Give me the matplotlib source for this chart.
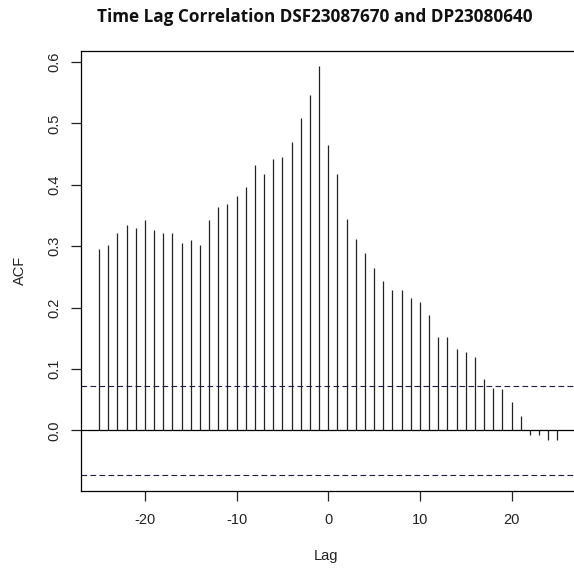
import matplotlib
matplotlib.use("Agg")
import matplotlib.pyplot as plt

# cross-correlation values, lags -25..25
lags = list(range(-25, 26))
acf = [
    0.296, 0.302, 0.321, 0.335, 0.329, 0.343, 0.327, 0.321, 0.321, 0.305,
    0.310, 0.302, 0.343, 0.364, 0.368, 0.382, 0.397, 0.433, 0.418, 0.442,
    0.446, 0.469, 0.509, 0.546, 0.593, 0.465, 0.417, 0.345, 0.312, 0.289,
    0.265, 0.244, 0.228, 0.228, 0.216, 0.209, 0.188, 0.152, 0.152, 0.133,
    0.127, 0.119, 0.084, 0.069, 0.067, 0.047, 0.023, -0.008, -0.007, -0.016,
    -0.016,
]
ci = 0.0722
xticks = [-20, -10, 0, 10, 20]
yticks = [0.0, 0.1, 0.2, 0.3, 0.4, 0.5, 0.6]

plt.rcParams["font.family"] = ["Liberation Sans", "DejaVu Sans"]

fig = plt.figure(figsize=(5.74, 5.68), dpi=100)
ax = fig.add_axes([80.7 / 574, 77.5 / 568, 495 / 574, 439.5 / 568])

ax.vlines(lags, 0, acf, color="#222222", lw=0.9)
ax.axhline(0, color="black", lw=0.9)
for y in (ci, -ci):
    ax.axhline(y, color="#1c1c4a", lw=0.8, linestyle=(0, (5.1, 3.0)))

ax.set_xlim(-27, 27)
ax.set_ylim(-0.0978, 0.618)
ax.set_xticks(xticks)
ax.set_xticklabels([str(t) for t in xticks])
ax.set_yticks(yticks)
ax.set_yticklabels([f"{t:.1f}" for t in yticks], rotation=90, va="center")
ax.tick_params(axis="x", length=7, width=0.9, pad=9, labelsize=10.5, colors="#222222")
ax.tick_params(axis="y", length=7.5, width=0.9, pad=6.5, labelsize=10.5, colors="#222222")
for s in ax.spines.values():
    s.set_linewidth(0.9)
    s.set_color("black")

fig.text(20 / 574, 1 - 270 / 568, "ACF", rotation=90, ha="center", va="center",
         fontsize=10.5, color="#222222")
fig.text(326 / 574, 1 - 556 / 568, "Lag", ha="center", va="center",
         fontsize=10.5, color="#222222")
fig.text(315 / 574, 1 - 17 / 568, "Time Lag Correlation DSF23087670 and DP23080640",
         ha="center", va="center", fontsize=12.3, fontweight="bold",
         family=["Open Sans", "DejaVu Sans"], color="#111111")

fig.savefig("out.png", dpi=100)
